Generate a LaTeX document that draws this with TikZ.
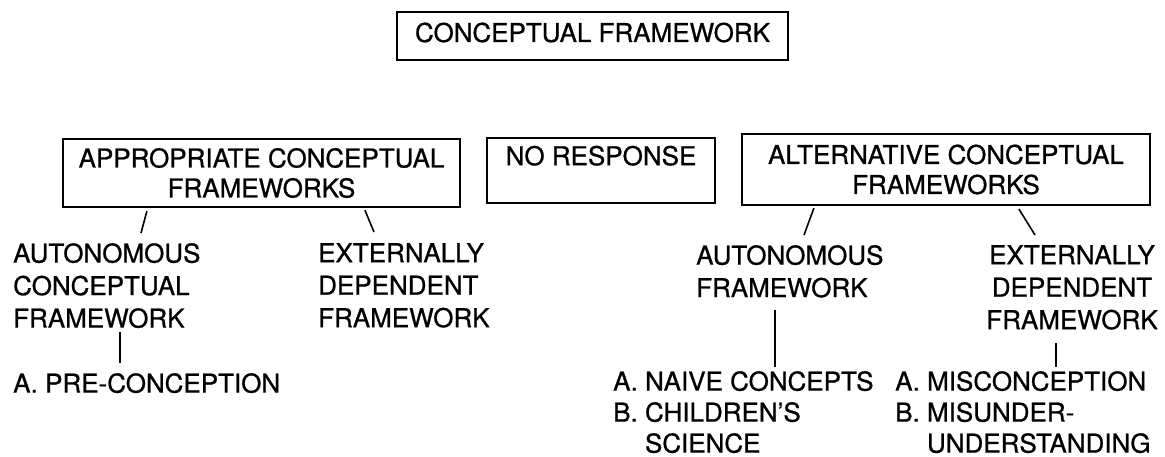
\documentclass[tikz,border=0pt]{standalone}
\usepackage{fontspec}
\setmainfont{TeX Gyre Heros}[BoldFont={TeX Gyre Heros}, BoldFeatures={FakeBold=0.8}]
\usetikzlibrary{calc}
\begin{document}
\begin{tikzpicture}[x=1pt,y=-1pt,
  every node/.style={font=\fontsize{26}{30}\selectfont\bfseries, inner sep=0pt},
  box/.style={draw, line width=2.2pt, align=center},
  item/.style={align=left, anchor=north west, font=\fontsize{26}{32.5}\selectfont\bfseries},
  ctr/.style={align=center, anchor=north, font=\fontsize{26}{32.5}\selectfont\bfseries},
  link/.style={line width=1.6pt}]
\useasboundingbox (0,0) rectangle (1165,457);

% boxes
\node[box, minimum width=391pt, minimum height=48pt, text height=19pt, text depth=7pt] (cf) at (592.5,36) {CONCEPTUAL FRAMEWORK};
\node[box, minimum width=397pt, minimum height=68pt] (acf) at (261.5,173) {APPROPRIATE CONCEPTUAL\\FRAMEWORKS};
\node[box, minimum width=228pt, minimum height=65pt] (nr) at (601,170.5) {NO RESPONSE\\\mbox{}};
\node[box, minimum width=408pt, minimum height=71pt] (alt) at (946,169.5) {ALTERNATIVE CONCEPTUAL\\FRAMEWORKS};

% lower texts
\node[item] (aucf) at (13,243) {AUTONOMOUS\\CONCEPTUAL\\FRAMEWORK};
\node[item] (edf1) at (318,243) {EXTERNALLY\\DEPENDENT\\FRAMEWORK};
\node[item] (pre) at (13,373) {A. PRE-CONCEPTION};
\node[item] (auf) at (696,245) {AUTONOMOUS\\FRAMEWORK};
\node[ctr] (edf2) at (1072,245) {EXTERNALLY\\DEPENDENT\\FRAMEWORK};
\node[item, font=\fontsize{26}{31}\selectfont\bfseries] (naive) at (613,371) {A. NAIVE CONCEPTS\\B. CHILDREN'S\\\hphantom{B. }SCIENCE};
\node[item, font=\fontsize{26}{31}\selectfont\bfseries] (mis) at (895,371) {A. MISCONCEPTION\\B. MISUNDER-\\\hphantom{B. }UNDERSTANDING};

% connectors
\draw[link] ($(acf.south west)+(85,3)$) -- ($(aucf.north west)+(128,-10)$);
\draw[link] ($(acf.south west)+(303,2)$) -- ($(edf1.north west)+(56,-11)$);
\draw[link] ($(pre.north west)+(107,-41)$) -- ($(pre.north west)+(107,-10)$);
\draw[link] ($(alt.south west)+(73,2)$) -- ($(auf.north west)+(108,-10)$);
\draw[link] ($(alt.south west)+(278,3)$) -- ($(edf2.north)+(-37,-10)$);
\draw[link] ($(naive.north west)+(162,-61)$) -- ($(naive.north west)+(162,-4)$);
\draw[link] ($(mis.north west)+(161,-28)$) -- ($(mis.north west)+(161,-4)$);
\end{tikzpicture}
\end{document}
